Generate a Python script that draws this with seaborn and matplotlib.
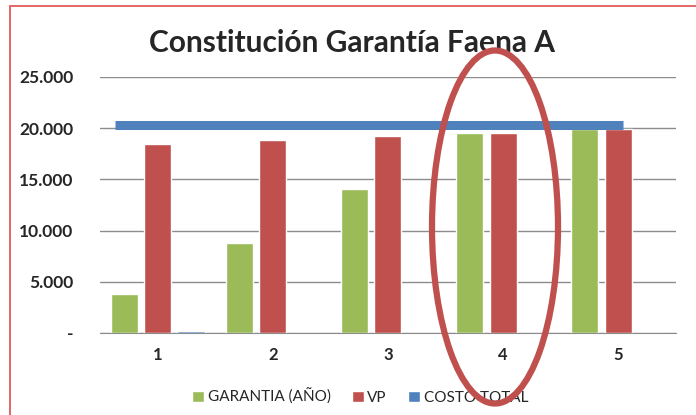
import pandas as pd
import seaborn as sns
import matplotlib.pyplot as plt
from matplotlib.patches import Ellipse, Rectangle
from matplotlib.ticker import FuncFormatter

# datos
anios = ['1', '2', '3', '4', '5']
garantia = [3800, 8800, 14100, 19500, 19950]
vp = [18450, 18850, 19250, 19500, 19950]
costo_total = [180, 0, 0, 0, 0]
costo_total_linea = 20300
series = ['GARANTIA (AÑO)', 'VP', 'COSTO TOTAL']
colores = ['#9BBB59', '#C0504D', '#4F81BD']

df = pd.DataFrame({
    'anio': anios * 3,
    'valor': garantia + vp + costo_total,
    'serie': [s for s in series for _ in anios],
})

sns.set_style('white')
plt.rcParams['font.family'] = ['Lato', 'DejaVu Sans']

fig = plt.figure(figsize=(6.96, 4.15), dpi=100)
ax = fig.add_axes([0.1437, 0.1976, 0.8273, 0.6169])

sns.barplot(data=df, x='anio', y='valor', hue='serie', palette=colores,
            width=0.87, gap=0.19, saturation=1, ax=ax, zorder=3)

# linea del costo total
ax.hlines(costo_total_linea, -0.37, len(anios) - 0.96, color='#4F81BD',
          lw=6.5, zorder=4)

ax.set_ylim(0, 25000)
ax.set_xlim(-0.5, len(anios) - 0.5)
ax.set_yticks(range(0, 25001, 5000))
ax.yaxis.set_major_formatter(FuncFormatter(
    lambda v, p: '-' if v == 0 else f'{int(v):,}'.replace(',', '.')))
ax.grid(axis='y', color='#8c8c8c', lw=1, zorder=0)
for s in ['top', 'right', 'left']:
    ax.spines[s].set_visible(False)
ax.spines['bottom'].set_color('#8c8c8c')
ax.tick_params(axis='x', length=0, labelsize=12, pad=10)
ax.tick_params(axis='y', length=0, labelsize=12.5, pad=19)
for t in ax.get_yticklabels() + ax.get_xticklabels():
    t.set_fontweight('bold')
ax.set_xlabel('')
ax.set_ylabel('')

ax.legend(loc='upper center', bbox_to_anchor=(0.452, -0.165), ncol=3,
          frameon=False, fontsize=11, handlelength=0.75, handleheight=0.75,
          handletextpad=0.25, columnspacing=1.4)

fig.suptitle('Constitución Garantía Faena A', x=0.506, y=0.93,
             fontsize=21.5, fontweight='bold')

fig.patches.append(Ellipse((495 / 696, 1 - 227 / 415), 126 / 696, 353 / 415,
                           transform=fig.transFigure, fill=False,
                           edgecolor='#C0504D', lw=4.5, zorder=10))
fig.patches.append(Rectangle((10 / 696, -0.1), 1.1, 1.1 - 6 / 415,
                             transform=fig.transFigure, fill=False,
                             edgecolor='#E05A5A', lw=1.3))

fig.savefig('out.png', dpi=100)
